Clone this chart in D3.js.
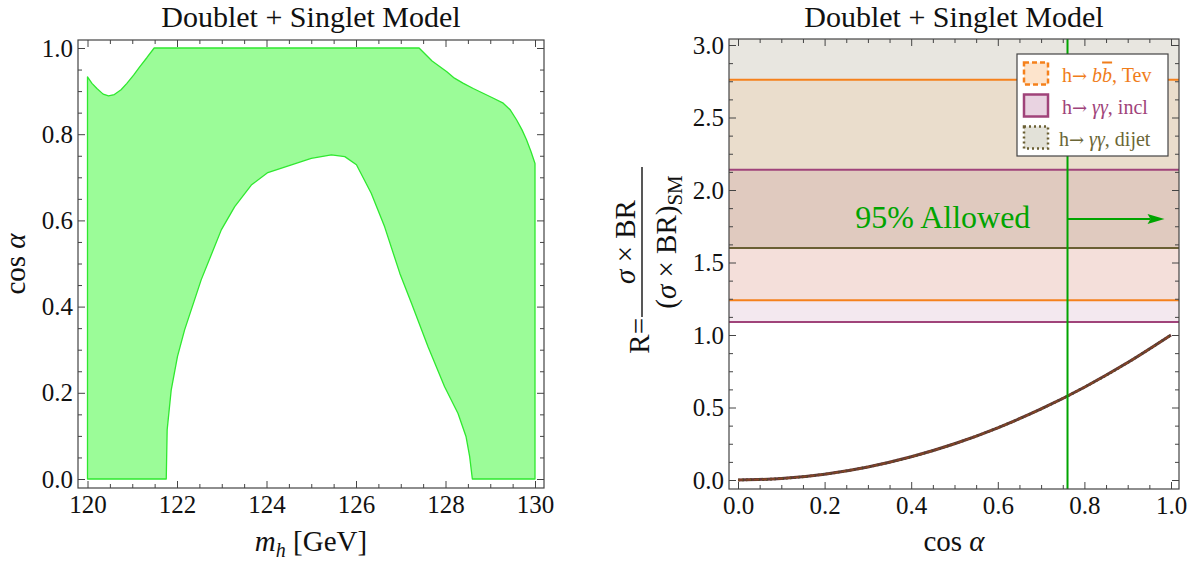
<!DOCTYPE html>
<html><head><meta charset="utf-8">
<script src="https://cdn.jsdelivr.net/npm/d3@7"></script>
<style>
body{margin:0;background:#fff}
svg{display:block}
text{font-family:"Liberation Serif","Times New Roman",serif}
</style>
</head><body>
<svg id="c" width="1202" height="565"></svg>
<script>
// ---------- DATA ----------
const titles = ["Doublet + Singlet Model", "Doublet + Singlet Model"];
// allowed region (left panel): outer boundary
const mhOuter  = [120, 120, 120.1, 120.21, 120.35, 120.47, 120.6, 120.75, 120.88, 121.03, 121.17, 121.33, 121.49, 127.41, 127.7, 128.03, 128.2, 128.40, 128.62, 128.84, 129.06, 129.29, 129.45, 129.59, 129.71, 129.81, 129.91, 130.0, 130];
const cosOuter = [0, 0.933, 0.918, 0.906, 0.893, 0.889, 0.892, 0.903, 0.918, 0.937, 0.957, 0.978, 1.0, 1.0, 0.97, 0.945, 0.93, 0.918, 0.906, 0.895, 0.884, 0.872, 0.856, 0.833, 0.81, 0.787, 0.76, 0.732, 0];
// inner (excluded) boundary, right to left
const mhHole  = [128.60, 128.54, 128.46, 128.28, 127.98, 127.61, 127.24, 126.98, 126.64, 126.34, 126.01, 125.75, 125.45, 125.00, 124.03, 123.66, 123.29, 122.99, 122.54, 122.17, 122.01, 121.87, 121.78, 121.76];
const cosHole = [0, 0.052, 0.098, 0.152, 0.214, 0.307, 0.408, 0.477, 0.585, 0.663, 0.729, 0.748, 0.752, 0.744, 0.711, 0.682, 0.632, 0.578, 0.462, 0.346, 0.284, 0.206, 0.114, 0];

const mhTicks = [120, 122, 124, 126, 128, 130];
const mhMinor = [120.5, 121, 121.5, 122.5, 123, 123.5, 124.5, 125, 125.5, 126.5, 127, 127.5, 128.5, 129, 129.5];
const cosTicksL = [0, 0.2, 0.4, 0.6, 0.8, 1.0];
const cosMinorL = [0.05,0.1,0.15,0.25,0.3,0.35,0.45,0.5,0.55,0.65,0.7,0.75,0.85,0.9,0.95];

// right panel
const bandNames = ["h\u2192 bb, Tev", "h\u2192 \u03b3\u03b3, incl", "h\u2192 \u03b3\u03b3, dijet"];
const bandLow  = [1.24, 1.09, 1.60];
const bandHigh = [2.76, 2.14, 3.20];
const cosA = [0, 0.1, 0.2, 0.3, 0.4, 0.5, 0.6, 0.7, 0.8, 0.9, 1.0];
const Rval = [0, 0.01, 0.04, 0.09, 0.16, 0.25, 0.36, 0.49, 0.64, 0.81, 1.0];
const allowedCos = 0.761;
const arrowR = 1.80, arrowEndCos = 0.985;
const allowedText = "95% Allowed";
const cosTicksR = [0, 0.2, 0.4, 0.6, 0.8, 1.0];
const cosMinorR = [0.05,0.1,0.15,0.25,0.3,0.35,0.45,0.5,0.55,0.65,0.7,0.75,0.85,0.9,0.95];
const rTicks = [0, 0.5, 1.0, 1.5, 2.0, 2.5, 3.0];
const rMinor = [0.125,0.25,0.375,0.625,0.75,0.875,1.125,1.25,1.375,1.625,1.75,1.875,2.125,2.25,2.375,2.625,2.75,2.875];

// ---------- LAYOUT / STYLE ----------
const svg = d3.select("#c");
const FL = {x0:78, x1:544, y0:40, y1:488};
const FR = {x0:729, x1:1179, y0:39, y1:489};
const xL = d3.scaleLinear().domain([120,130]).range([87.5,535]);
const yL = d3.scaleLinear().domain([0,1]).range([479,48]);
const xR = d3.scaleLinear().domain([0,1]).range([738,1171]);
const yR = d3.scaleLinear().domain([0,3]).range([480,45]);
const frameCol = "#444";
const bandStroke = ["#f5811c", "#a0437a", "#6a5f33"];
const bandFill = ["rgba(255,128,0,0.087)", "rgba(150,50,110,0.11)", "rgba(110,100,60,0.16)"];
const legendFill = ["#fde4cc", "#e9d3e1", "#e2e1d8"];
const legendText = ["#f07d1a", "#a0437a", "#6b6636"];
const legendDash = ["5,3", null, "2,3"];
const green = "#00a400";

function drawAxes(F, xs, ys, xMaj, xMin, yMaj, yMin, fx, fy) {
  const g = svg.append("g");
  const mk = (axis, tr) => {
    const a = g.append("g").attr("transform", tr).call(axis);
    a.select(".domain").remove();
    a.attr("font-size", 25).attr("font-family", "Liberation Serif, Times New Roman, serif").attr("color", frameCol);
    a.selectAll("text").attr("fill", "#111");
    return a;
  };
  mk(d3.axisBottom(xs).tickValues(xMaj).tickSize(-7).tickPadding(7).tickFormat(fx), `translate(0,${F.y1})`);
  mk(d3.axisBottom(xs).tickValues(xMin).tickSize(-4).tickFormat(""), `translate(0,${F.y1})`);
  mk(d3.axisTop(xs).tickValues(xMaj).tickSize(-7).tickFormat(""), `translate(0,${F.y0})`);
  mk(d3.axisTop(xs).tickValues(xMin).tickSize(-4).tickFormat(""), `translate(0,${F.y0})`);
  mk(d3.axisLeft(ys).tickValues(yMaj).tickSize(-7).tickPadding(5).tickFormat(fy), `translate(${F.x0},0)`);
  mk(d3.axisLeft(ys).tickValues(yMin).tickSize(-4).tickFormat(""), `translate(${F.x0},0)`);
  mk(d3.axisRight(ys).tickValues(yMaj).tickSize(-7).tickFormat(""), `translate(${F.x1},0)`);
  mk(d3.axisRight(ys).tickValues(yMin).tickSize(-4).tickFormat(""), `translate(${F.x1},0)`);
  g.append("rect").attr("x", F.x0).attr("y", F.y0).attr("width", F.x1-F.x0).attr("height", F.y1-F.y0)
    .attr("fill", "none").attr("stroke", frameCol).attr("stroke-width", 1.2);
}

// ---------- LEFT PANEL ----------
const regionPts = mhOuter.map((m,i)=>[m, cosOuter[i]]).concat(mhHole.map((m,i)=>[m, cosHole[i]]));
const lineL = d3.line().x(d=>xL(d[0])).y(d=>yL(d[1]));
svg.append("path").attr("d", lineL(regionPts) + "Z")
  .attr("fill", "#9bfc98").attr("stroke", "#2fe82f").attr("stroke-width", 1.3).attr("stroke-linejoin","round");

drawAxes(FL, xL, yL, mhTicks, mhMinor, cosTicksL, cosMinorL, d3.format("d"), d3.format(".1f"));

svg.append("text").attr("x", (FL.x0+FL.x1)/2).attr("y", 27).attr("text-anchor","middle")
  .attr("font-size", 30).attr("fill","#111").text(titles[0]);
{
  const t = svg.append("text").attr("x", (FL.x0+FL.x1)/2).attr("y", 551).attr("text-anchor","middle")
    .attr("font-size", 29).attr("fill","#111");
  t.append("tspan").attr("font-style","italic").text("m");
  t.append("tspan").attr("font-style","italic").attr("font-size",20).attr("dy",6).text("h");
  t.append("tspan").attr("dy",-6).text(" [GeV]");
}
{
  const t = svg.append("text").attr("transform", `translate(25,${(FL.y0+FL.y1)/2}) rotate(-90)`)
    .attr("text-anchor","middle").attr("font-size", 29).attr("fill","#111");
  t.append("tspan").text("cos ");
  t.append("tspan").attr("font-style","italic").text("\u03b1");
}

// ---------- RIGHT PANEL ----------
const clip = svg.append("clipPath").attr("id","clipR");
clip.append("rect").attr("x", FR.x0).attr("y", FR.y0).attr("width", FR.x1-FR.x0).attr("height", FR.y1-FR.y0);
const gR = svg.append("g").attr("clip-path","url(#clipR)");
const order = [1, 2, 0];
order.forEach(i => {
  gR.append("rect").attr("x", FR.x0).attr("width", FR.x1-FR.x0)
    .attr("y", yR(bandHigh[i])).attr("height", yR(bandLow[i]) - yR(bandHigh[i]))
    .attr("fill", bandFill[i]);
});
order.forEach(i => {
  [bandLow[i], bandHigh[i]].forEach(v => {
    gR.append("line").attr("x1", FR.x0).attr("x2", FR.x1).attr("y1", yR(v)).attr("y2", yR(v))
      .attr("stroke", bandStroke[i]).attr("stroke-width", 2);
  });
});
// R curve (three overlapping predictions)
const curve = d3.line().x((d,i)=>xR(cosA[i])).y(d=>yR(d)).curve(d3.curveMonotoneX);
gR.append("path").attr("d", curve(Rval)).attr("fill","none").attr("stroke","#6a3838").attr("stroke-width",3);
gR.append("path").attr("d", curve(Rval)).attr("fill","none").attr("stroke","#4e4629").attr("stroke-width",2.6).attr("stroke-dasharray","2,2");
gR.append("path").attr("d", curve(Rval)).attr("fill","none").attr("stroke","#8a4424").attr("stroke-width",1.4).attr("stroke-dasharray","5,3");

// allowed line + arrow
gR.append("line").attr("x1", xR(allowedCos)).attr("x2", xR(allowedCos)).attr("y1", FR.y0).attr("y2", FR.y1)
  .attr("stroke", green).attr("stroke-width", 2);
gR.append("line").attr("x1", xR(allowedCos)).attr("x2", xR(arrowEndCos)-14).attr("y1", yR(arrowR)).attr("y2", yR(arrowR))
  .attr("stroke", green).attr("stroke-width", 2);
{
  const ex = xR(arrowEndCos), ey = yR(arrowR);
  gR.append("path").attr("d", `M${ex},${ey}L${ex-17},${ey-5}L${ex-14},${ey}L${ex-17},${ey+5}Z`).attr("fill", green);
}
svg.append("text").attr("x", xR(0.473)).attr("y", yR(1.74)).attr("text-anchor","middle")
  .attr("font-size", 32).attr("fill", green).text(allowedText);

drawAxes(FR, xR, yR, cosTicksR, cosMinorR, rTicks, rMinor, d3.format(".1f"), d3.format(".1f"));

// legend
{
  const lg = svg.append("g");
  lg.append("rect").attr("x", 1017).attr("y", 54).attr("width", 151).attr("height", 102)
    .attr("fill", "#fff").attr("stroke", "#444").attr("stroke-width", 1.2);
  bandNames.forEach((nm, i) => {
    const cy = 73.5 + i*32;
    lg.append("rect").attr("x", 1024).attr("y", cy-11).attr("width", 24).attr("height", 22)
      .attr("fill", legendFill[i]).attr("stroke", bandStroke[i]).attr("stroke-width", 2.5)
      .attr("stroke-dasharray", legendDash[i]);
    const t = lg.append("text").attr("x", i===2 ? 1059 : 1062).attr("y", cy+8).attr("font-size", 20).attr("fill", legendText[i]);
    const parts = nm.split(" ");
    t.append("tspan").text(parts[0].slice(0,1));
    t.append("tspan").attr("font-family","DejaVu Serif").attr("font-size",18).text(parts[0].slice(1));
    t.append("tspan").text(" ");
    if (i === 0) {
      t.append("tspan").attr("font-style","italic").text("b");
      t.append("tspan").attr("font-style","italic").style("text-decoration","overline").text("b");
    } else {
      t.append("tspan").attr("font-style","italic").text(parts[1].replace(",", ""));
    }
    t.append("tspan").text(", " + parts[2]);
  });
}

// titles & labels
svg.append("text").attr("x", (FR.x0+FR.x1)/2).attr("y", 27).attr("text-anchor","middle")
  .attr("font-size", 30).attr("fill","#111").text(titles[1]);
{
  const t = svg.append("text").attr("x", (FR.x0+FR.x1)/2).attr("y", 551).attr("text-anchor","middle")
    .attr("font-size", 29).attr("fill","#111");
  t.append("tspan").text("cos ");
  t.append("tspan").attr("font-style","italic").text("\u03b1");
}
{
  const g = svg.append("g").attr("transform", "translate(642,242) rotate(-90)");
  g.append("line").attr("x1", -75).attr("x2", 75).attr("y1", 0).attr("y2", 0).attr("stroke", "#111").attr("stroke-width", 1.4);
  const num = g.append("text").attr("x", 0).attr("y", -7).attr("text-anchor","middle").attr("font-size", 29).attr("fill","#111");
  num.append("tspan").attr("font-style","italic").text("\u03c3");
  num.append("tspan").text(" \u00d7 BR");
  const den = g.append("text").attr("x", 0).attr("y", 34).attr("text-anchor","middle").attr("font-size", 29).attr("fill","#111");
  den.append("tspan").text("(");
  den.append("tspan").attr("font-style","italic").text("\u03c3");
  den.append("tspan").text(" \u00d7 BR)");
  den.append("tspan").attr("font-size", 21).attr("dy", 6).text("SM");
  g.append("text").attr("x", -76).attr("y", 7).attr("text-anchor","end").attr("font-size", 29).attr("fill","#111").text("R=");
}
</script>
</body></html>
